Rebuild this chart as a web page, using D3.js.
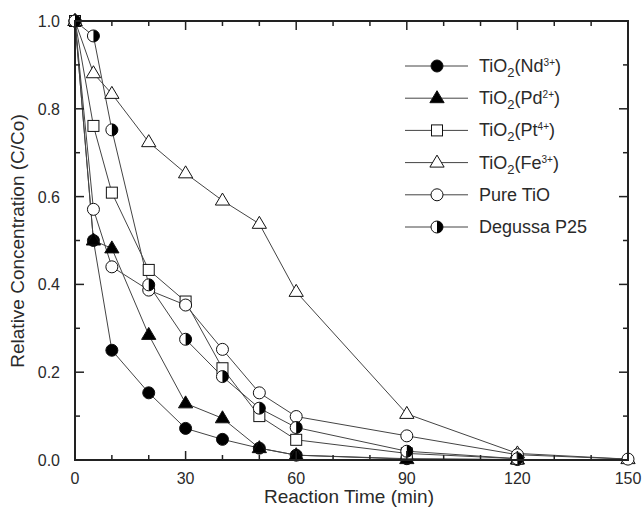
<!DOCTYPE html>
<html><head><meta charset="utf-8">
<script src="https://cdn.jsdelivr.net/npm/d3@7"></script>
<style>body{margin:0;background:#fff}svg{display:block}text{font-family:"Liberation Sans",Arial,sans-serif;fill:#2a2a2a}</style>
</head><body>
<script>
const times = [0,5,10,20,30,40,50,60,90,120,150];
const nd  = [1.0,0.50,0.25,0.153,0.072,0.047,0.027,0.011,0.003,0.001,null];
const pd  = [1.0,0.50,0.482,0.285,0.129,0.095,0.027,0.011,0.002,0.001,null];
const pt  = [1.0,0.761,0.609,0.433,0.361,0.209,0.10,0.046,0.015,0.003,null];
const fe  = [1.0,0.881,0.834,0.724,0.653,0.591,0.538,0.383,0.105,0.015,0.002];
const pure= [1.0,0.571,0.44,0.387,0.353,0.252,0.153,0.099,0.055,0.012,0.002];
const p25 = [1.0,0.966,0.752,0.399,0.275,0.19,0.118,0.074,0.02,0.003,null];
const seriesNames = ["Nd","Pd","Pt","Fe","Pure TiO","Degussa P25"];
const seriesData = [nd,pd,pt,fe,pure,p25];
const markerTypes = ["circleFilled","triangleFilled","squareOpen","triangleOpen","circleOpen","half"];
const xTicks = [0,30,60,90,120,150];
const yTicks = [0.0,0.2,0.4,0.6,0.8,1.0];

const W=644,H=511;
const svg=d3.select("body").append("svg").attr("width",W).attr("height",H);
const x=d3.scaleLinear().domain([0,150]).range([75,628]);
const y=d3.scaleLinear().domain([0,1]).range([460,21]);

function marker(g,type,cx,cy){
  const s="#111";
  if(type==="circleFilled") g.append("circle").attr("cx",cx).attr("cy",cy).attr("r",6).attr("fill","#000").attr("stroke",s);
  else if(type==="circleOpen") g.append("circle").attr("cx",cx).attr("cy",cy).attr("r",6).attr("fill","#fff").attr("stroke",s).attr("stroke-width",1);
  else if(type==="squareOpen") g.append("rect").attr("x",cx-5.5).attr("y",cy-5.5).attr("width",11).attr("height",11).attr("fill","#fff").attr("stroke",s);
  else if(type==="triangleFilled"||type==="triangleOpen"){
    const r=7.5;
    g.append("path").attr("d",`M${cx},${cy-r}L${cx+r*0.95},${cy+r*0.6}L${cx-r*0.95},${cy+r*0.6}Z`)
     .attr("fill",type==="triangleFilled"?"#000":"#fff").attr("stroke",s);
  } else if(type==="half"){
    g.append("circle").attr("cx",cx).attr("cy",cy).attr("r",6).attr("fill","#fff").attr("stroke",s);
    g.append("path").attr("d",`M${cx},${cy-6}A6,6 0 0 1 ${cx},${cy+6}Z`).attr("fill","#000");
  }
}

// lines
const line=d3.line().defined(d=>d[1]!=null).x(d=>x(d[0])).y(d=>y(d[1]));
seriesData.forEach((arr,i)=>{
  const pts=times.map((t,j)=>[t,arr[j]]);
  svg.append("path").datum(pts).attr("d",line).attr("fill","none").attr("stroke","#444").attr("stroke-width",1);
});
seriesData.forEach((arr,i)=>{
  const g=svg.append("g");
  times.forEach((t,j)=>{ if(arr[j]!=null) marker(g,markerTypes[i],x(t),y(arr[j])); });
});

// frame & ticks
const ax=svg.append("g").attr("stroke","#222");
ax.append("rect").attr("x",75).attr("y",21).attr("width",553).attr("height",439).attr("fill","none").attr("stroke-width",2);
d3.range(0,151,10).forEach(t=>{
  const L=(t%30===0)?9:5;
  ax.append("line").attr("x1",x(t)).attr("x2",x(t)).attr("y1",460).attr("y2",460-L).attr("stroke-width",1.5);
  ax.append("line").attr("x1",x(t)).attr("x2",x(t)).attr("y1",21).attr("y2",21+L).attr("stroke-width",1.5);
});
d3.range(0,11).forEach(k=>{
  const v=k/10, L=(k%2===0)?9:5;
  ax.append("line").attr("y1",y(v)).attr("y2",y(v)).attr("x1",75).attr("x2",75+L).attr("stroke-width",1.5);
  ax.append("line").attr("y1",y(v)).attr("y2",y(v)).attr("x1",628).attr("x2",628-L).attr("stroke-width",1.5);
});
xTicks.forEach(t=>svg.append("text").attr("x",x(t)).attr("y",484).attr("text-anchor","middle").attr("font-size",16).text(t));
yTicks.forEach(v=>svg.append("text").attr("x",60).attr("y",y(v)+6).attr("text-anchor","end").attr("font-size",16).text(v.toFixed(1)));
svg.append("text").attr("x",349).attr("y",503).attr("text-anchor","middle").attr("font-size",19).text("Reaction Time (min)");
svg.append("text").attr("transform","translate(24,241) rotate(-90)").attr("text-anchor","middle").attr("font-size",19).text("Relative Concentration (C/Co)");

// legend
const sups=["3+","2+","4+","3+"];
seriesNames.forEach((n,i)=>{
  const ly=66+i*32.2;
  svg.append("line").attr("x1",405).attr("x2",468).attr("y1",ly).attr("y2",ly).attr("stroke","#444");
  marker(svg.append("g"),markerTypes[i],437,ly);
  const t=svg.append("text").attr("x",479).attr("y",ly+6).attr("font-size",18);
  if(i<4){
    t.append("tspan").text("TiO");
    t.append("tspan").attr("font-size",13).attr("dy",5).text("2");
    t.append("tspan").attr("dy",-5).text("("+n);
    t.append("tspan").attr("font-size",10).attr("dy",-6).text(sups[i]);
    t.append("tspan").attr("dy",6).text(")");
  } else t.text(n);
});
</script>
</body></html>
